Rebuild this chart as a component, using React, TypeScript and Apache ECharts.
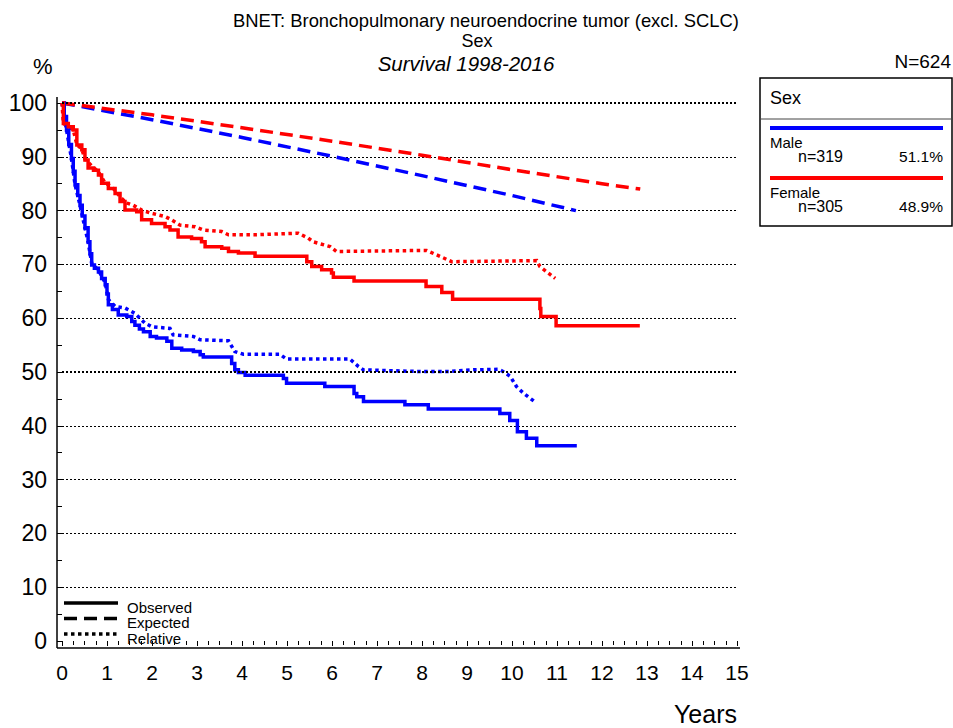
import React, { useEffect, useRef } from "react";
import * as echarts from "echarts";

// Survival curves by sex: [years, percent]
const maleObserved: [number, number][] = [
  [0, 100], [0.05, 97.5], [0.1, 95.0], [0.15, 92.3], [0.21, 89.7], [0.25, 87.3],
  [0.29, 84.8], [0.35, 82.8], [0.4, 81.0], [0.45, 79.0], [0.51, 76.8], [0.58, 74.2],
  [0.62, 72.0], [0.66, 69.9], [0.72, 69.3], [0.81, 68.6], [0.88, 67.4], [0.96, 66.2],
  [1.0, 64.5], [1.03, 62.5], [1.12, 61.6], [1.25, 60.6], [1.44, 60.3], [1.55, 59.4],
  [1.62, 58.7], [1.72, 58.0], [1.81, 57.5], [1.96, 56.6], [2.1, 56.3], [2.33, 55.7],
  [2.44, 54.4], [2.66, 54.1], [2.92, 53.8], [3.07, 53.2], [3.14, 52.8], [3.77, 51.6],
  [3.84, 50.4], [3.92, 49.9], [4.07, 49.4], [4.92, 48.8], [4.99, 47.9], [5.84, 47.3],
  [6.49, 46.0], [6.55, 45.4], [6.7, 44.5], [7.62, 43.9], [8.14, 43.1], [9.73, 42.3],
  [9.95, 41.0], [10.12, 38.9], [10.32, 37.7], [10.55, 36.3], [11.44, 36.3],
];

const maleRelative: [number, number][] = [
  [0, 100], [0.1, 95.0], [0.21, 89.7], [0.29, 84.8], [0.4, 81.0], [0.51, 76.8],
  [0.58, 74.2], [0.66, 70.2], [0.81, 68.9], [0.96, 66.6], [1.03, 63.5], [1.07, 63.1],
  [1.18, 62.2], [1.4, 61.9], [1.62, 60.9], [1.84, 59.1], [2.0, 58.4], [2.4, 58.1],
  [2.47, 56.9], [2.92, 56.6], [3.07, 56.0], [3.7, 55.8], [3.84, 53.8], [4.03, 53.3],
  [4.84, 53.3], [4.99, 52.4], [6.4, 52.4], [6.59, 51.0], [6.7, 50.4], [7.88, 50.1],
  [8.62, 50.1], [9.14, 50.4], [9.7, 50.5], [9.8, 50.1], [9.96, 49.2], [10.1, 47.3],
  [10.25, 46.1], [10.5, 44.5],
];

const maleExpected: [number, number][] = [
  [0, 100], [2, 96.9], [4, 93.6], [6, 90.1], [8, 86.5], [10, 82.8], [11.42, 80.0],
];

const femaleObserved: [number, number][] = [
  [0, 100], [0.03, 96.2], [0.14, 95.6], [0.25, 95.0], [0.33, 92.2], [0.44, 91.3],
  [0.51, 89.4], [0.58, 87.9], [0.7, 87.5], [0.81, 86.6], [0.88, 85.1], [1.03, 84.1],
  [1.18, 83.2], [1.29, 81.7], [1.4, 80.1], [1.66, 79.8], [1.77, 78.3], [1.99, 77.6],
  [2.29, 77.0], [2.4, 76.4], [2.58, 75.1], [2.88, 74.8], [3.1, 74.2], [3.18, 73.3],
  [3.55, 73.0], [3.7, 72.4], [3.92, 72.1], [4.29, 71.5], [5.44, 70.5], [5.55, 69.6],
  [5.77, 69.0], [5.99, 68.4], [6.03, 67.6], [6.49, 66.9], [8.09, 65.9], [8.44, 64.8],
  [8.68, 63.5], [10.62, 61.8], [10.64, 60.3], [10.98, 58.6], [12.84, 58.6],
];

const femaleRelative: [number, number][] = [
  [0, 100], [0.03, 96.2], [0.14, 95.6], [0.25, 95.0], [0.33, 92.3], [0.44, 91.4],
  [0.51, 89.6], [0.66, 88.3], [0.81, 87.2], [0.96, 85.1], [1.1, 84.5], [1.32, 82.3],
  [1.44, 81.4], [1.58, 81.0], [1.77, 80.1], [1.99, 79.5], [2.29, 78.9], [2.43, 78.3],
  [2.62, 77.3], [2.96, 77.0], [3.14, 76.4], [3.55, 76.1], [3.7, 75.5], [4.29, 75.5],
  [5.25, 75.8], [5.47, 74.9], [5.58, 74.2], [5.96, 73.3], [6.1, 72.4], [8.1, 72.6],
  [8.4, 71.5], [8.66, 70.5], [10.55, 70.7], [10.62, 69.6], [10.96, 67.4],
];

const femaleExpected: [number, number][] = [
  [0, 100], [2, 97.8], [4, 95.4], [6, 92.9], [8, 90.3], [10, 87.6], [12, 85.0], [12.85, 84.0],
];

const groups = [
  { name: "Male", n: "n=319", share: "51.1%", color: "#0000ff" },
  { name: "Female", n: "n=305", share: "48.9%", color: "#ff0000" },
];

const legendStyles = ["Observed", "Expected", "Relative"];

const W = 953;
const H = 728;
const GRID_L = 62;
const GRID_R = 737;
const GRID_T = 103;
const GRID_B = 641;
const FONT = "Liberation Sans, Arial, sans-serif";
const DASHED = [13, 7];
const DOTTED = [3.5, 3.5];
const LW = 3.5;

export default function App() {
  const ref = useRef<HTMLDivElement>(null);

  useEffect(() => {
    if (!ref.current) return;
    const chart = echarts.init(ref.current, null, { renderer: "svg", width: W, height: H });

    const curve = (
      name: string,
      data: [number, number][],
      color: string,
      dash: number[] | "solid",
      step: boolean
    ) => ({
      name,
      type: "line",
      data,
      step: step ? "end" : false,
      showSymbol: false,
      symbol: "none",
      clip: false,
      silent: true,
      lineStyle: { color, width: LW, type: dash, cap: "butt", join: "miter" },
      z: 3,
    });

    const text = (x: number, y: number, str: string, size: number, extra: any = {}) => ({
      type: "text",
      x,
      y,
      style: {
        text: str,
        fontSize: size,
        fontFamily: FONT,
        fill: "#000",
        textVerticalAlign: "middle",
        ...extra,
      },
    });

    const hline = (x1: number, x2: number, y: number, stroke: string, width: number, dash?: number[]) => ({
      type: "line",
      shape: { x1, y1: y, x2, y2: y },
      style: { stroke, lineWidth: width, lineDash: dash },
    });

    const boxL = 760;
    const boxR = 952;
    const graphic: any[] = [
      // axis lines
      { type: "line", shape: { x1: 57, y1: 97, x2: 57, y2: 648 }, style: { stroke: "#000", lineWidth: 1.5 } },
      { type: "line", shape: { x1: 57, y1: 648, x2: 740, y2: 648 }, style: { stroke: "#000", lineWidth: 1.5 } },
      // titles
      text(486, 20, "BNET: Bronchopulmonary neuroendocrine tumor (excl. SCLC)", 18.4, { textAlign: "center" }),
      text(477, 41, "Sex", 18, { textAlign: "center" }),
      text(466, 63, "Survival 1998-2016", 20.5, { textAlign: "center", fontStyle: "italic" }),
      text(33, 66, "%", 22),
      text(951, 61, "N=624", 19, { textAlign: "right" }),
      text(737, 714, "Years", 25, { textAlign: "right" }),
      // group legend box
      {
        type: "rect",
        shape: { x: boxL, y: 78, width: boxR - boxL, height: 148 },
        style: { fill: "#fff", stroke: "#000", lineWidth: 1.5 },
      },
      hline(boxL, boxR, 119, "#444", 1),
      text(770, 98, "Sex", 18),
    ];
    groups.forEach((g, i) => {
      const y = 128 + i * 50;
      graphic.push(hline(770, 943, y, g.color, 4));
      graphic.push(text(770, y + 14, g.name, 15));
      graphic.push(text(798, y + 28.5, g.n, 16));
      graphic.push(text(943, y + 28.5, g.share, 15.5, { textAlign: "right" }));
    });
    // line style legend
    const styleDash: (number[] | undefined)[] = [undefined, DASHED, DOTTED];
    legendStyles.forEach((label, i) => {
      const y = 603 + i * 15.5;
      graphic.push(hline(64, 118, y, "#000", LW, styleDash[i]));
      graphic.push(text(127, y + 4, label, 15));
    });

    chart.setOption({
      animation: false,
      backgroundColor: "#fff",
      grid: {
        left: GRID_L,
        top: GRID_T,
        width: GRID_R - GRID_L,
        height: GRID_B - GRID_T,
        containLabel: false,
      },
      xAxis: {
        type: "value",
        min: 0,
        max: 15,
        interval: 1,
        offset: 7,
        axisLine: { show: false },
        axisTick: { show: true, length: 5, lineStyle: { color: "#000", width: 1 } },
        minorTick: { show: true, splitNumber: 4, length: 4, lineStyle: { color: "#000", width: 1 } },
        axisLabel: { fontSize: 21, color: "#000", fontFamily: FONT, margin: 14 },
        splitLine: { show: false },
      },
      yAxis: {
        type: "value",
        min: 0,
        max: 100,
        interval: 10,
        offset: 5,
        axisLine: { show: false },
        axisTick: { show: true, length: 5, lineStyle: { color: "#000", width: 1 } },
        minorTick: { show: true, splitNumber: 2, length: 5, lineStyle: { color: "#000", width: 1 } },
        axisLabel: { fontSize: 23, color: "#000", fontFamily: FONT, margin: 10 },
        splitLine: {
          show: true,
          showMinLine: false,
          showMaxLine: false,
          lineStyle: { color: "#000", width: 1, type: [2, 2] },
        },
      },
      graphic,
      series: [
        {
          type: "line",
          data: [],
          silent: true,
          markLine: {
            silent: true,
            symbol: "none",
            label: { show: false },
            lineStyle: { color: "#000", width: 2, type: [2, 2] },
            data: [{ yAxis: 100 }, { yAxis: 50 }],
          },
          z: 1,
        },
        curve("Male expected", maleExpected, "#0000ff", DASHED, false),
        curve("Female expected", femaleExpected, "#ff0000", DASHED, false),
        curve("Male relative", maleRelative, "#0000ff", DOTTED, false),
        curve("Female relative", femaleRelative, "#ff0000", DOTTED, false),
        curve("Male observed", maleObserved, "#0000ff", "solid", true),
        curve("Female observed", femaleObserved, "#ff0000", "solid", true),
      ],
    });

    return () => chart.dispose();
  }, []);

  return (
    <div
      ref={ref}
      style={{ position: "absolute", left: 0, top: 0, width: W, height: H, background: "#fff" }}
    />
  );
}
